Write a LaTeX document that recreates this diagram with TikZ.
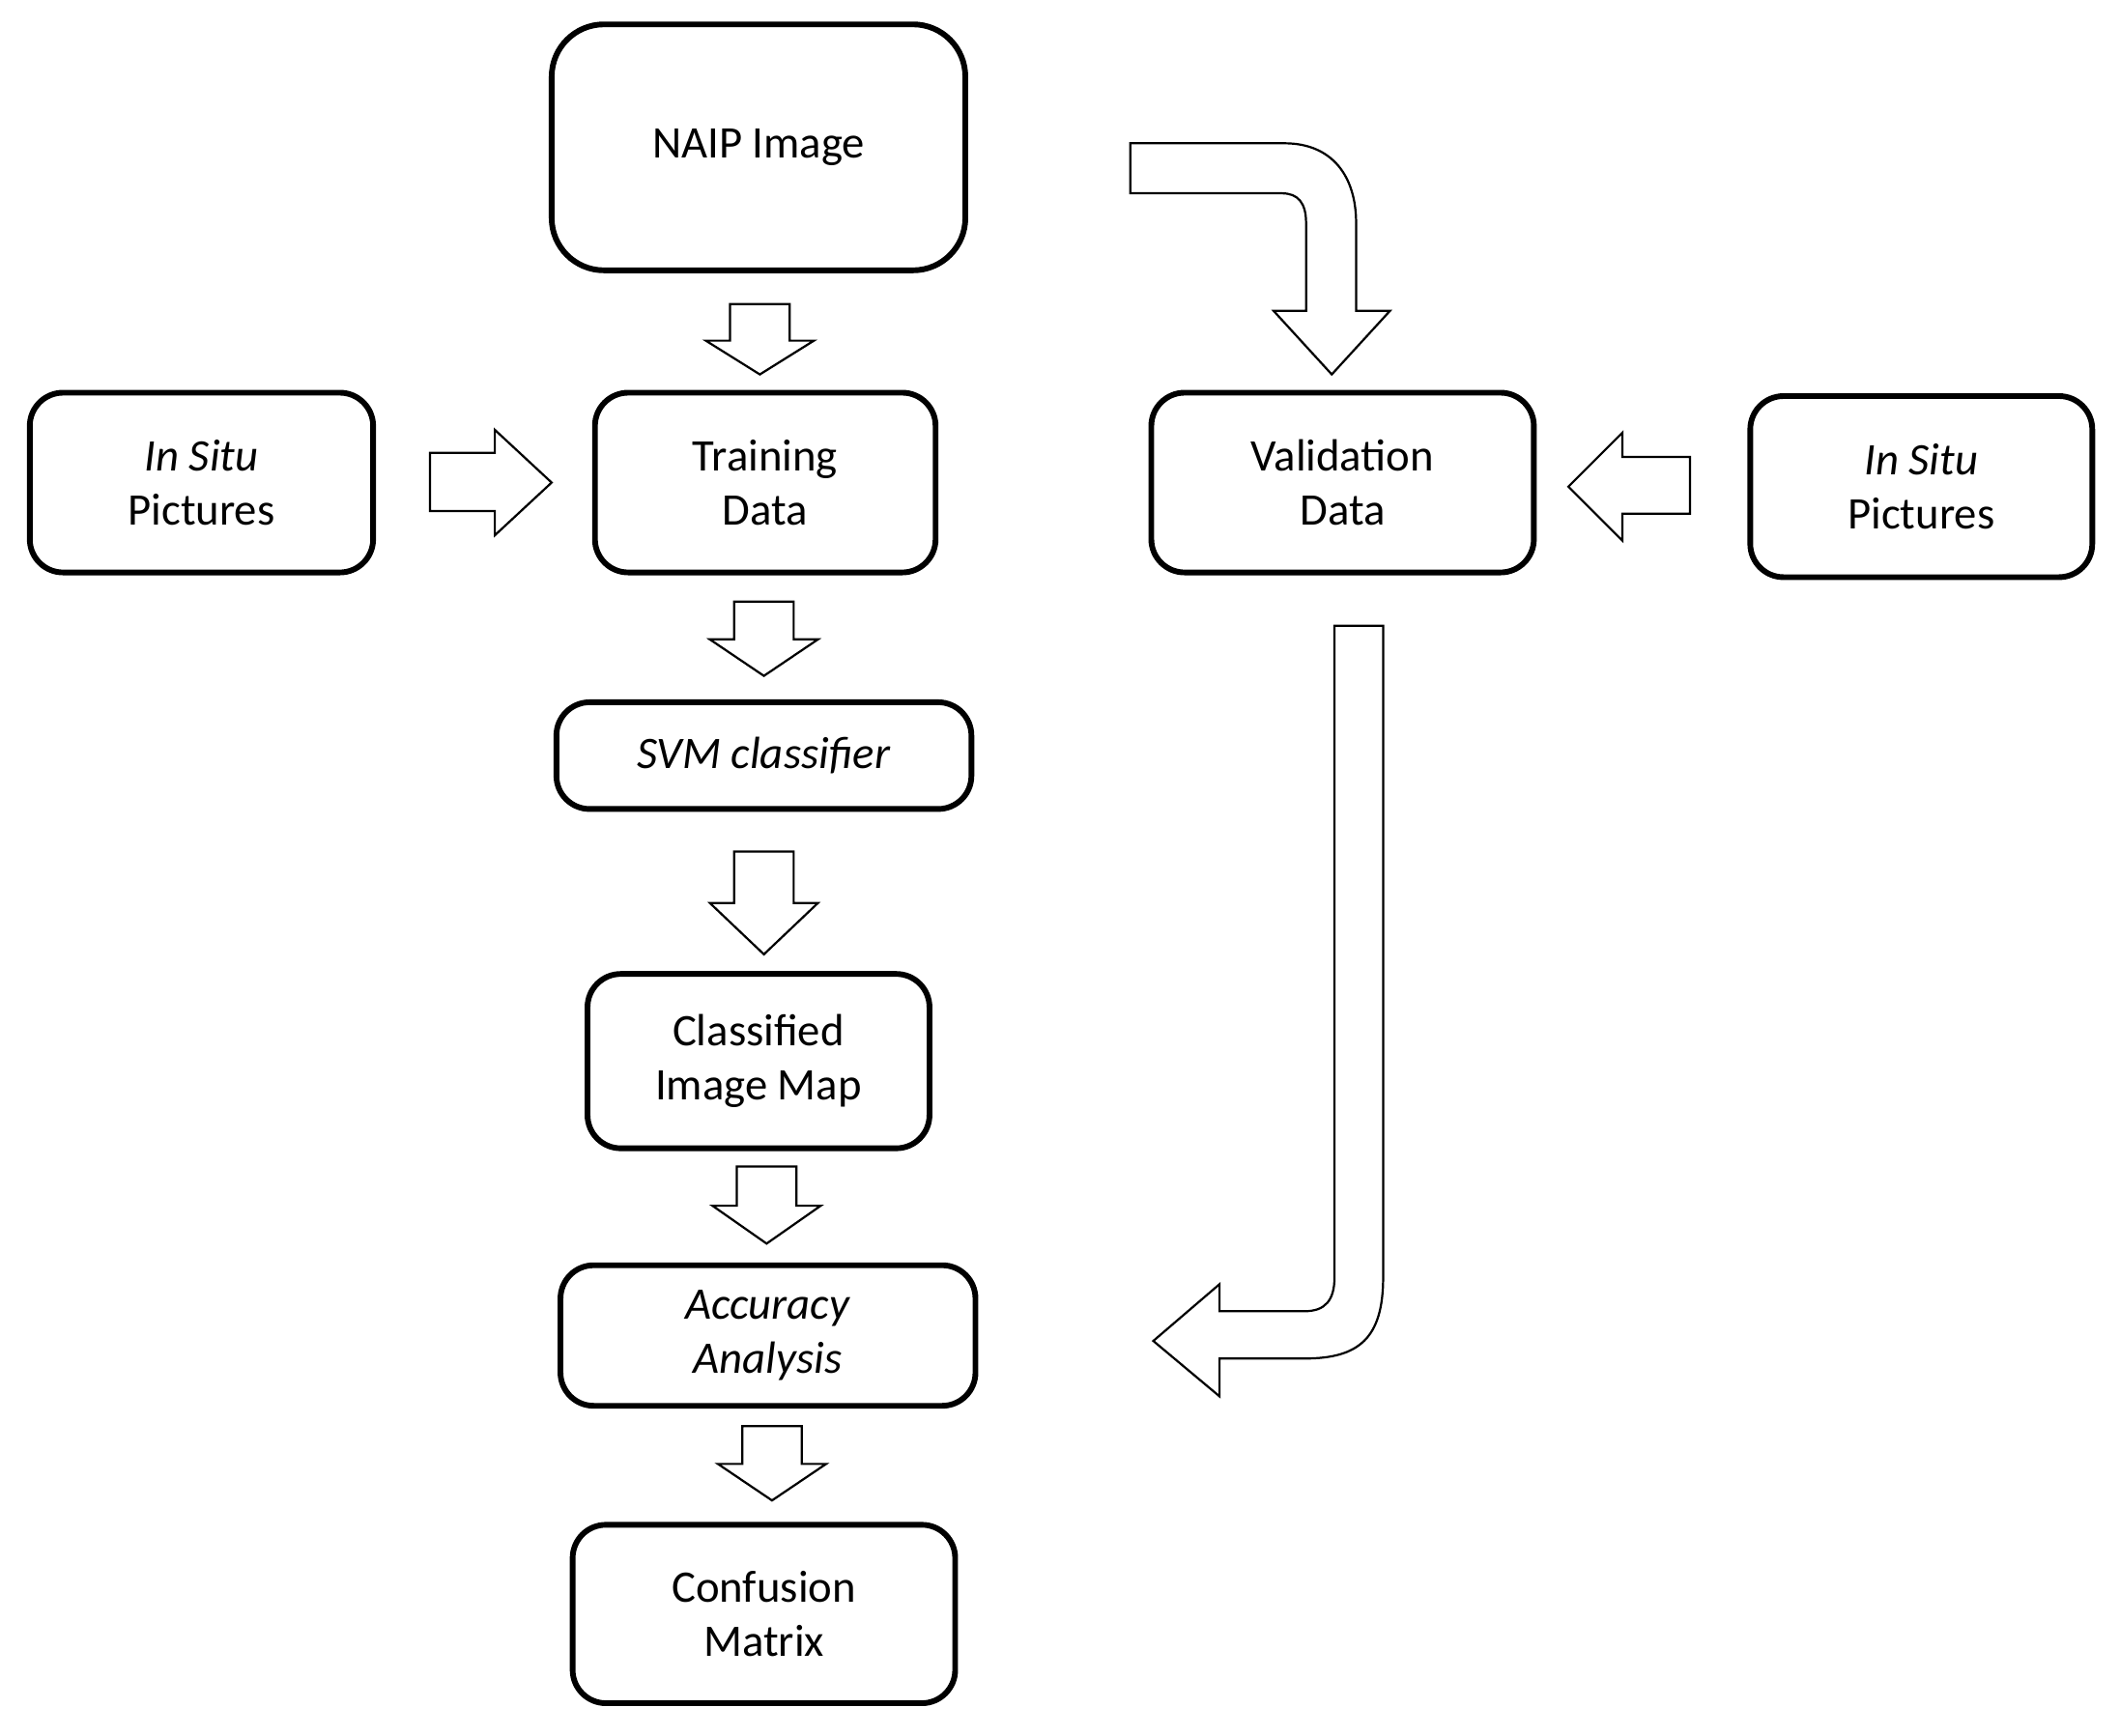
\documentclass[tikz,border=0pt]{standalone}
\usepackage{fontspec}
\setmainfont{Carlito}
\begin{document}
\begin{tikzpicture}[x=0.02cm,y=-0.02cm,
  box/.style={draw,line width=2.4pt,rounded corners=14pt,align=center,font=\fontsize{19}{23}\selectfont,inner sep=0pt},
  blk/.style={draw,line width=0.9pt,fill=white,line join=miter}]
\useasboundingbox (0,0) rectangle (1568,1284);
\newcommand\darr[4]{% cx, top, neck, tip
  \draw[blk] (#1-22,#2) -- (#1+22,#2) -- (#1+22,#3) -- (#1+40,#3) -- (#1,#4) -- (#1-40,#3) -- (#1-22,#3) -- cycle;}
\node[box,rounded corners=22pt,minimum width=306\pgflinewidth] (naip) at (561,109) [minimum width=6.12cm,minimum height=3.64cm] {NAIP Image};
\node[box,minimum width=5.04cm,minimum height=2.66cm] (train) at (566,357) {Training\\Data};
\node[box,minimum width=5.08cm,minimum height=2.66cm] (isl) at (149,357) {\textit{In Situ}\\Pictures};
\node[box,minimum width=5.66cm,minimum height=2.66cm] (val) at (993,357) {Validation\\Data};
\node[box,minimum width=5.06cm,minimum height=2.68cm] (isr) at (1421,360) {\textit{In Situ}\\Pictures};
\node[box,minimum width=6.14cm,minimum height=1.58cm] (svm) at (565,559) {\textit{SVM classifier}};
\node[box,minimum width=5.06cm,minimum height=2.58cm] (cls) at (561,785) {Classified\\Image Map};
\node[box,minimum width=6.14cm,minimum height=2.08cm] (acc) at (568,988) {\textit{Accuracy}\\\textit{Analysis}};
\node[box,minimum width=5.66cm,minimum height=2.64cm] (conf) at (565,1194) {Confusion\\Matrix};
\darr{562}{225}{252}{277}
\darr{565}{445}{473}{500}
\darr{565}{630}{668}{706}
\darr{567}{863}{892}{920}
\darr{571}{1055}{1083}{1110}
% left -> right
\draw[blk] (318,335) -- (366,335) -- (366,318) -- (408,357) -- (366,396) -- (366,378) -- (318,378) -- cycle;
% right -> left
\draw[blk] (1250,338) -- (1200,338) -- (1200,320) -- (1160,360) -- (1200,400) -- (1200,380) -- (1250,380) -- cycle;
% curved top arrow
\draw[blk] (836,106) -- (950,106) .. controls (985,106) and (1003,130) .. (1003,165) -- (1003,230) -- (1028,230) -- (985,277) -- (942,230) -- (966,230) -- (966,165) .. controls (966,150) and (960,143) .. (948,143) -- (836,143) -- cycle;
% long bottom arrow
\draw[blk] (987,463) -- (1023,463) -- (1023,945) .. controls (1023,990) and (1005,1005) .. (965,1005) -- (902,1005) -- (902,1033) -- (853,992) -- (902,950) -- (902,970) -- (965,970) .. controls (980,970) and (987,962) .. (987,945) -- cycle;
\end{tikzpicture}
\end{document}
